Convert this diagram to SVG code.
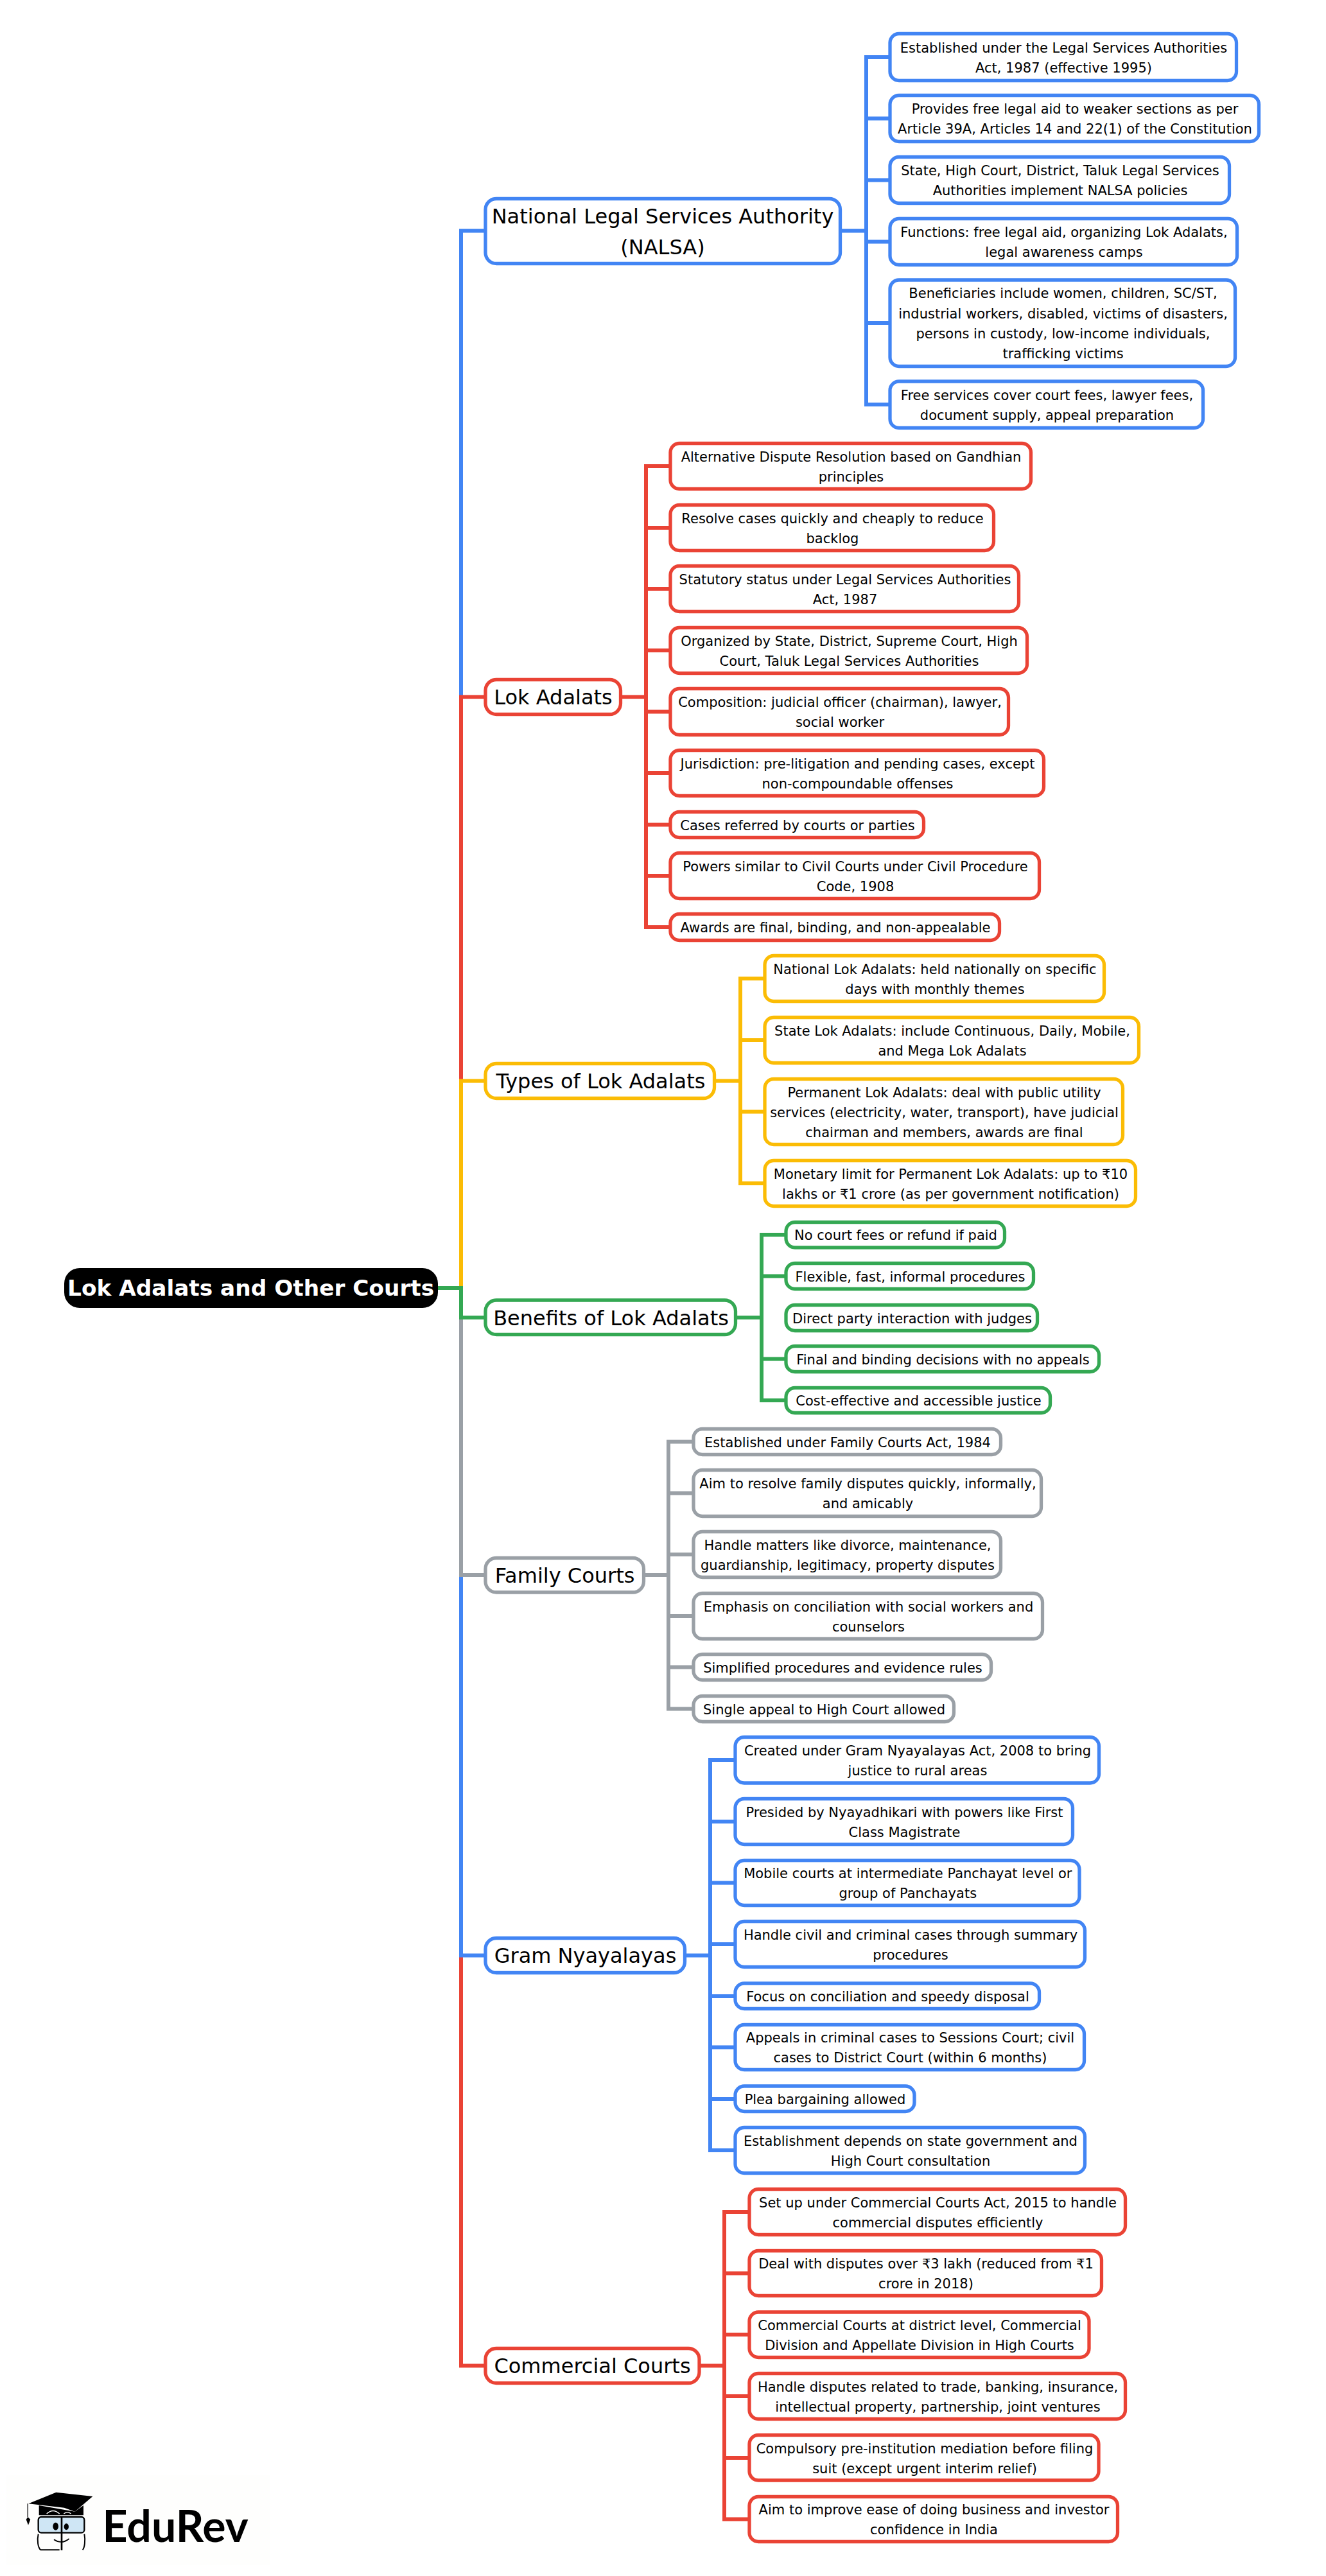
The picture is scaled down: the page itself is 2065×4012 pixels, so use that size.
<svg xmlns="http://www.w3.org/2000/svg" width="2065" height="4012" viewBox="0 0 2065 4012">
<style>
text{font-family:"DejaVu Sans",sans-serif;fill:#000;text-anchor:middle}
.l{font-size:21px;transform:translateY(.8px)}
.m{font-size:32px}
.r{font-size:34.3px;font-weight:700;fill:#fff}
rect.n{fill:#fff;stroke-width:5.3}
.c{fill:none;stroke-width:6;stroke-linejoin:miter}
.b{stroke:#4285F4}.d{stroke:#EA4335}.y{stroke:#FBBC05}.g{stroke:#34A853}.a{stroke:#9AA0A6}
</style>
<rect width="2065" height="4012" fill="#fff"/>
<g id="connectors">
<path class="c b" d="M682 2006H718V359.5H755"/>
<path class="c d" d="M682 2006H718V1085.5H755"/>
<path class="c y" d="M682 2006H718V1683.5H755"/>
<path class="c d" d="M682 2006H718V3684.5H755"/>
<path class="c b" d="M682 2006H718V3045.5H755"/>
<path class="c a" d="M682 2006H718V2453H755"/>
<path class="c g" d="M682 2006H718V2052H755"/>
<path class="c b" d="M1311 359.5H1349M1385 89H1349V630H1385M1349 184.5H1385M1349 280.5H1385M1349 376.5H1385M1349 503H1385"/>
<path class="c d" d="M969 1085.5H1006M1043 726H1006V1444H1043M1006 822H1043M1006 917H1043M1006 1013H1043M1006 1108.5H1043M1006 1204H1043M1006 1284.5H1043M1006 1364H1043"/>
<path class="c y" d="M1115 1683.5H1153M1190 1524H1153V1843H1190M1153 1620H1190M1153 1731.5H1190"/>
<path class="c g" d="M1148 2052H1186M1223 1923H1186V2181H1223M1186 1987.5H1223M1186 2116.5H1223"/>
<path class="c a" d="M1005 2453H1041M1079 2245.5H1041V2661.5H1079M1041 2325.5H1079M1041 2421H1079M1041 2517H1079M1041 2596.5H1079"/>
<path class="c b" d="M1069 3045.5H1106M1144 2741H1106V3349H1144M1106 2837H1144M1106 2932.5H1144M1106 3028H1144M1106 3109H1144M1106 3188.5H1144M1106 3269H1144"/>
<path class="c d" d="M1091 3684.5H1128M1166 3445H1128V3923.5H1166M1128 3540.5H1166M1128 3636H1166M1128 3732H1166M1128 3828H1166"/>
</g>
<g id="root"><rect x="100" y="1975" width="582" height="62" rx="24" fill="#000"/><text class="r" x="390.6" y="2018">Lok Adalats and Other Courts</text></g>

<g id="nalsa"><rect class="n b" x="756" y="309.5" width="552.5" height="101" rx="17"/><text class="m" x="1032" y="348">National Legal Services Authority</text><text class="m" x="1032" y="396">(NALSA)</text></g>
<g id="n1"><rect class="n b" x="1386" y="52.5" width="539.5" height="73" rx="14"/><text class="l" x="1656.5" y="80.9">Established under the Legal Services Authorities</text><text class="l" x="1656.5" y="112.1">Act, 1987 (effective 1995)</text></g>
<g id="n2"><rect class="n b" x="1386" y="148.5" width="574.5" height="72" rx="14"/><text class="l" x="1674" y="176.4">Provides free legal aid to weaker sections as per</text><text class="l" x="1674" y="207.6">Article 39A, Articles 14 and 22(1) of the Constitution</text></g>
<g id="n3"><rect class="n b" x="1386" y="244.5" width="528.5" height="72" rx="14"/><text class="l" x="1651" y="272.4">State, High Court, District, Taluk Legal Services</text><text class="l" x="1651" y="303.6">Authorities implement NALSA policies</text></g>
<g id="n4"><rect class="n b" x="1386" y="340.5" width="540.5" height="72" rx="14"/><text class="l" x="1657" y="368.4">Functions: free legal aid, organizing Lok Adalats,</text><text class="l" x="1657" y="399.6">legal awareness camps</text></g>
<g id="n5"><rect class="n b" x="1386" y="436" width="537.5" height="134.5" rx="14"/><text class="l" x="1655.5" y="463.7">Beneficiaries include women, children, SC/ST,</text><text class="l" x="1655.5" y="494.9">industrial workers, disabled, victims of disasters,</text><text class="l" x="1655.5" y="526.1">persons in custody, low-income individuals,</text><text class="l" x="1655.5" y="557.3">trafficking victims</text></g>
<g id="n6"><rect class="n b" x="1386" y="594" width="487.5" height="72.5" rx="14"/><text class="l" x="1630.5" y="622">Free services cover court fees, lawyer fees,</text><text class="l" x="1630.5" y="653">document supply, appeal preparation</text></g>

<g id="lok"><rect class="n d" x="756" y="1058.5" width="210.5" height="54" rx="17"/><text class="m" x="861.5" y="1097">Lok Adalats</text></g>
<g id="l1"><rect class="n d" x="1044" y="690.5" width="561.5" height="71" rx="14"/><text class="l" x="1325.5" y="717.9">Alternative Dispute Resolution based on Gandhian</text><text class="l" x="1325.5" y="749.1">principles</text></g>
<g id="l2"><rect class="n d" x="1044" y="786.5" width="503.5" height="71" rx="14"/><text class="l" x="1296.5" y="813.9">Resolve cases quickly and cheaply to reduce</text><text class="l" x="1296.5" y="845.1">backlog</text></g>
<g id="l3"><rect class="n d" x="1044" y="881.5" width="542.5" height="71" rx="14"/><text class="l" x="1316" y="908.9">Statutory status under Legal Services Authorities</text><text class="l" x="1316" y="940.1">Act, 1987</text></g>
<g id="l4"><rect class="n d" x="1044" y="977.5" width="555.5" height="71" rx="14"/><text class="l" x="1322.5" y="1004.9">Organized by State, District, Supreme Court, High</text><text class="l" x="1322.5" y="1036.1">Court, Taluk Legal Services Authorities</text></g>
<g id="l5"><rect class="n d" x="1044" y="1072.5" width="526.5" height="72" rx="14"/><text class="l" x="1308" y="1100.4">Composition: judicial officer (chairman), lawyer,</text><text class="l" x="1308" y="1131.6">social worker</text></g>
<g id="l6"><rect class="n d" x="1044" y="1168.5" width="581.5" height="71" rx="14"/><text class="l" x="1335.5" y="1195.9">Jurisdiction: pre-litigation and pending cases, except</text><text class="l" x="1335.5" y="1227.1">non-compoundable offenses</text></g>
<g id="l7"><rect class="n d" x="1044" y="1264.5" width="394.5" height="40" rx="14"/><text class="l" x="1242" y="1292">Cases referred by courts or parties</text></g>
<g id="l8"><rect class="n d" x="1044" y="1328.5" width="574.5" height="71" rx="14"/><text class="l" x="1332" y="1355.9">Powers similar to Civil Courts under Civil Procedure</text><text class="l" x="1332" y="1387.1">Code, 1908</text></g>
<g id="l9"><rect class="n d" x="1044" y="1423.5" width="512.5" height="41" rx="14"/><text class="l" x="1301" y="1451.5">Awards are final, binding, and non-appealable</text></g>

<g id="types"><rect class="n y" x="756" y="1656.5" width="356.5" height="54" rx="17"/><text class="m" x="935.5" y="1695">Types of Lok Adalats</text></g>
<g id="t1"><rect class="n y" x="1191" y="1488.5" width="528.5" height="71" rx="14"/><text class="l" x="1456" y="1515.9">National Lok Adalats: held nationally on specific</text><text class="l" x="1456" y="1547.1">days with monthly themes</text></g>
<g id="t2"><rect class="n y" x="1191" y="1584.5" width="582.5" height="71" rx="14"/><text class="l" x="1483" y="1611.9">State Lok Adalats: include Continuous, Daily, Mobile,</text><text class="l" x="1483" y="1643.1">and Mega Lok Adalats</text></g>
<g id="t3"><rect class="n y" x="1191" y="1680.5" width="557.5" height="102" rx="14"/><text class="l" x="1470.5" y="1707.8">Permanent Lok Adalats: deal with public utility</text><text class="l" x="1470.5" y="1739">services (electricity, water, transport), have judicial</text><text class="l" x="1470.5" y="1770.2">chairman and members, awards are final</text></g>
<g id="t4"><rect class="n y" x="1191" y="1807.5" width="577.5" height="71" rx="14"/><text class="l" x="1480.5" y="1834.9">Monetary limit for Permanent Lok Adalats: up to ₹10</text><text class="l" x="1480.5" y="1866.1">lakhs or ₹1 crore (as per government notification)</text></g>

<g id="benefits"><rect class="n g" x="756" y="2025" width="389.5" height="53.5" rx="17"/><text class="m" x="951.5" y="2063.5">Benefits of Lok Adalats</text></g>
<g id="b1"><rect class="n g" x="1224" y="1903.5" width="340.5" height="39.5" rx="14"/><text class="l" x="1395" y="1930.5">No court fees or refund if paid</text></g>
<g id="b2"><rect class="n g" x="1224" y="1967.5" width="385.5" height="40" rx="14"/><text class="l" x="1417.5" y="1995">Flexible, fast, informal procedures</text></g>
<g id="b3"><rect class="n g" x="1224" y="2032.5" width="391.5" height="40" rx="14"/><text class="l" x="1420.5" y="2060">Direct party interaction with judges</text></g>
<g id="b4"><rect class="n g" x="1224" y="2096.5" width="487.5" height="40" rx="14"/><text class="l" x="1468.5" y="2124">Final and binding decisions with no appeals</text></g>
<g id="b5"><rect class="n g" x="1224" y="2161.5" width="411.5" height="39" rx="14"/><text class="l" x="1430.5" y="2188.5">Cost-effective and accessible justice</text></g>

<g id="family"><rect class="n a" x="756" y="2426.5" width="246.5" height="53.5" rx="17"/><text class="m" x="879.5" y="2465">Family Courts</text></g>
<g id="f1"><rect class="n a" x="1080" y="2225.5" width="478.5" height="40" rx="14"/><text class="l" x="1320" y="2253">Established under Family Courts Act, 1984</text></g>
<g id="f2"><rect class="n a" x="1080" y="2289.5" width="541.5" height="72" rx="14"/><text class="l" x="1351.5" y="2317.4">Aim to resolve family disputes quickly, informally,</text><text class="l" x="1351.5" y="2348.6">and amicably</text></g>
<g id="f3"><rect class="n a" x="1080" y="2385.5" width="478.5" height="71" rx="14"/><text class="l" x="1320" y="2412.9">Handle matters like divorce, maintenance,</text><text class="l" x="1320" y="2444.1">guardianship, legitimacy, property disputes</text></g>
<g id="f4"><rect class="n a" x="1080" y="2481.5" width="543.5" height="71" rx="14"/><text class="l" x="1352.5" y="2508.9">Emphasis on conciliation with social workers and</text><text class="l" x="1352.5" y="2540.1">counselors</text></g>
<g id="f5"><rect class="n a" x="1080" y="2576.5" width="463.5" height="40" rx="14"/><text class="l" x="1312.5" y="2604">Simplified procedures and evidence rules</text></g>
<g id="f6"><rect class="n a" x="1080" y="2641.5" width="405.5" height="40" rx="14"/><text class="l" x="1283.5" y="2669">Single appeal to High Court allowed</text></g>

<g id="gram"><rect class="n b" x="756" y="3018.5" width="310.5" height="54" rx="17"/><text class="m" x="911.5" y="3057">Gram Nyayalayas</text></g>
<g id="g1"><rect class="n b" x="1145" y="2705.5" width="566.5" height="71.5" rx="14"/><text class="l" x="1429" y="2732.9">Created under Gram Nyayalayas Act, 2008 to bring</text><text class="l" x="1429" y="2764.1">justice to rural areas</text></g>
<g id="g2"><rect class="n b" x="1145" y="2801.5" width="525.5" height="71" rx="14"/><text class="l" x="1408.5" y="2828.9">Presided by Nyayadhikari with powers like First</text><text class="l" x="1408.5" y="2860.1">Class Magistrate</text></g>
<g id="g3"><rect class="n b" x="1145" y="2897.5" width="536" height="70" rx="14"/><text class="l" x="1413.75" y="2924.4">Mobile courts at intermediate Panchayat level or</text><text class="l" x="1413.75" y="2955.6">group of Panchayats</text></g>
<g id="g4"><rect class="n b" x="1145" y="2992.5" width="544.5" height="71" rx="14"/><text class="l" x="1418" y="3019.9">Handle civil and criminal cases through summary</text><text class="l" x="1418" y="3051.1">procedures</text></g>
<g id="g5"><rect class="n b" x="1145" y="3089" width="473.5" height="39.5" rx="14"/><text class="l" x="1382.5" y="3116.5">Focus on conciliation and speedy disposal</text></g>
<g id="g6"><rect class="n b" x="1145" y="3153.5" width="543.5" height="70" rx="14"/><text class="l" x="1417.5" y="3180.4">Appeals in criminal cases to Sessions Court; civil</text><text class="l" x="1417.5" y="3211.6">cases to District Court (within 6 months)</text></g>
<g id="g7"><rect class="n b" x="1145" y="3249" width="279" height="39.5" rx="14"/><text class="l" x="1285" y="3276.5">Plea bargaining allowed</text></g>
<g id="g8"><rect class="n b" x="1145" y="3313.5" width="544.5" height="71" rx="14"/><text class="l" x="1418" y="3340.9">Establishment depends on state government and</text><text class="l" x="1418" y="3372.1">High Court consultation</text></g>

<g id="commercial"><rect class="n d" x="756" y="3657.5" width="333" height="54" rx="17"/><text class="m" x="922.5" y="3696">Commercial Courts</text></g>
<g id="c1"><rect class="n d" x="1167" y="3409.5" width="585.5" height="71" rx="14"/><text class="l" x="1460.5" y="3436.9">Set up under Commercial Courts Act, 2015 to handle</text><text class="l" x="1460.5" y="3468.1">commercial disputes efficiently</text></g>
<g id="c2"><rect class="n d" x="1167" y="3505.5" width="548.5" height="70" rx="14"/><text class="l" x="1442" y="3532.4">Deal with disputes over ₹3 lakh (reduced from ₹1</text><text class="l" x="1442" y="3563.6">crore in 2018)</text></g>
<g id="c3"><rect class="n d" x="1167" y="3601" width="529" height="70.5" rx="14"/><text class="l" x="1432" y="3627.9">Commercial Courts at district level, Commercial</text><text class="l" x="1432" y="3659.1">Division and Appellate Division in High Courts</text></g>
<g id="c4"><rect class="n d" x="1167" y="3696.5" width="585.5" height="71" rx="14"/><text class="l" x="1460.5" y="3723.9">Handle disputes related to trade, banking, insurance,</text><text class="l" x="1460.5" y="3755.1">intellectual property, partnership, joint ventures</text></g>
<g id="c5"><rect class="n d" x="1167" y="3792.5" width="544" height="70.5" rx="14"/><text class="l" x="1440" y="3819.9">Compulsory pre-institution mediation before filing</text><text class="l" x="1440" y="3851.1">suit (except urgent interim relief)</text></g>
<g id="c6"><rect class="n d" x="1167" y="3888.5" width="573.5" height="70" rx="14"/><text class="l" x="1454.5" y="3915.4">Aim to improve ease of doing business and investor</text><text class="l" x="1454.5" y="3946.6">confidence in India</text></g>

<g id="logo">
<rect x="10" y="3855" width="410" height="140" fill="#fefefd"/>
<g transform="translate(0 3800) scale(.3333)">
<path d="M182 306V352H390V306L350 335Z" fill="#000"/>
<path d="M133 298L262 245L433 264L350 335L300 317Z" fill="#000"/>
<path d="M130 298V360" stroke="#000" stroke-width="4" fill="none"/>
<path d="M130 360L142 372L132 398L122 372Z" fill="#000"/>
<rect x="179" y="360" width="215" height="74" rx="14" fill="#cfe6f5" stroke="#000" stroke-width="7"/>
<path d="M179 440C172 470 178 505 190 514H278M394 440C400 470 395 505 386 514" fill="none" stroke="#000" stroke-width="6"/>
<path d="M288 358V516" stroke="#000" stroke-width="8"/>
<path d="M218 345Q248 318 278 345M298 345Q315 332 332 345" fill="none" stroke="#fff" stroke-width="4"/>
<ellipse cx="260" cy="404" rx="13" ry="18" fill="#000"/>
<ellipse cx="310" cy="406" rx="11" ry="15" fill="#000"/>
<path d="M252 466Q288 490 323 462" fill="none" stroke="#000" stroke-width="5"/>
</g>
<text x="273" y="3959" style="font-family:Lato,sans-serif;font-weight:700;font-size:68px">EduRev</text>
</g>
</svg>
